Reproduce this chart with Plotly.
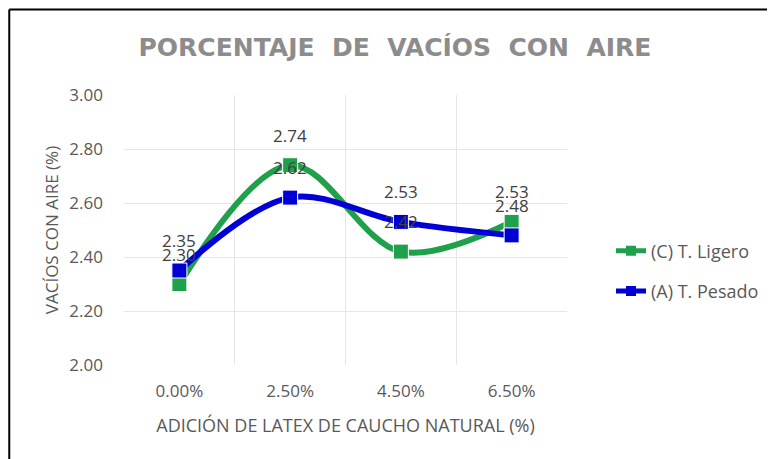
import plotly.graph_objects as go

categories = ["0.00%", "2.50%", "4.50%", "6.50%"]
ligero = [2.30, 2.74, 2.42, 2.53]
pesado = [2.35, 2.62, 2.53, 2.48]
series_names = ["(C) T. Ligero", "(A) T. Pesado"]
y_ticks = [2.00, 2.20, 2.40, 2.60, 2.80, 3.00]

GREEN = "#1fa04a"
BLUE = "#0000d6"
TXT = "#595959"
FONT = "Open Sans"
xpos = list(range(len(categories)))

# page has an 8px body margin, so the figure is drawn at (8, 8)
W, H = 767, 451
L, R, T, B = 116, 207, 87, 94
PW, PH = W - L - R, H - T - B

fig = go.Figure()
for i, (name, vals, col) in enumerate([(series_names[0], ligero, GREEN), (series_names[1], pesado, BLUE)]):
    fig.add_trace(go.Scatter(
        x=xpos, y=vals, name=name, mode="lines+markers", showlegend=False,
        line=dict(color=col, width=6, shape="spline", smoothing=1.0),
        marker=dict(symbol="square", size=15, color=col, line=dict(color="white", width=1)),
        hoverinfo="skip",
    ))
    # legend entry (smaller symbol as in the reference)
    fig.add_trace(go.Scatter(
        x=[None], y=[None], name=name, mode="lines+markers", legendgroup=f"g{i}",
        line=dict(color=col, width=5), marker=dict(symbol="square", size=10, color=col),
        hoverinfo="skip",
    ))
    for xv, yv in zip(xpos, vals):
        fig.add_annotation(x=xv, y=yv, text=f"{yv:.2f}", showarrow=False, yshift=30,
                           font=dict(family=FONT, size=17, color="#404040"))

fig.update_layout(
    width=W, height=H,
    margin=dict(l=L, r=R, t=T, b=B),
    paper_bgcolor="white", plot_bgcolor="white",
    title=dict(text="PORCENTAJE  DE  VACÍOS  CON  AIRE", x=(395 - 8) / W, xanchor="center",
               y=1 - (47 - 8) / H, yanchor="middle",
               font=dict(family="DejaVu Sans", size=25, color="#8c8c8c", weight="bold")),
    showlegend=True,
    legend=dict(x=(611 - 8 - L) / PW, y=(H - B - (271 - 8)) / PH, xanchor="left", yanchor="middle",
                font=dict(family=FONT, size=18, color=TXT),
                tracegroupgap=14, bgcolor="rgba(0,0,0,0)"),
    font=dict(family=FONT, size=17, color=TXT),
)

fig.update_xaxes(
    range=[-0.5, 3.5], tickvals=xpos, ticktext=categories, showgrid=False,
    zeroline=False, showline=False, ticks="", ticklabelstandoff=14,
    tickfont=dict(family=FONT, size=17, color=TXT),
    title=dict(text="ADICIÓN DE LATEX DE CAUCHO NATURAL (%)", standoff=18,
               font=dict(family=FONT, size=18, color=TXT)),
    minor=dict(tickvals=[-0.5, 0.5, 1.5, 2.5, 3.5], showgrid=True, gridcolor="#e6e6e6", gridwidth=1),
)
fig.update_yaxes(
    range=[2.0, 3.0], tickvals=y_ticks, tickformat=".2f", showgrid=True, gridcolor="#e6e6e6",
    zeroline=False, showline=False, ticks="", ticklabelstandoff=20,
    tickfont=dict(family=FONT, size=17, color=TXT),
    title=dict(text="VACÍOS CON AIRE (%)", standoff=6,
               font=dict(family=FONT, size=17, color=TXT)),
)

# outer frame (top and left edges visible in the reference)
fx = (1 - L) / PW
fy = (H - B - 1.5) / PH
fig.add_shape(type="line", xref="paper", yref="paper", x0=fx, x1=(W + 20 - L) / PW,
              y0=fy, y1=fy, line=dict(color="black", width=2))
fig.add_shape(type="line", xref="paper", yref="paper", x0=fx, x1=fx,
              y0=fy, y1=-(B + 20) / PH, line=dict(color="black", width=2))

fig.write_html("out.html")
